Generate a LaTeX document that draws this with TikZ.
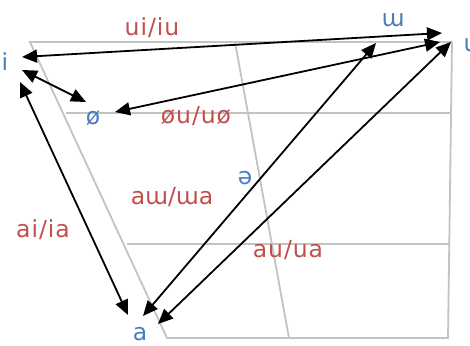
\documentclass[tikz,border=0pt]{standalone}
\usepackage{fontspec}
\setmainfont{DejaVu Sans}
\newfontfamily\spacedfont[LetterSpace=4]{DejaVu Sans}
\usetikzlibrary{arrows.meta}
\definecolor{vblue}{RGB}{74,126,187}
\definecolor{vred}{RGB}{192,80,77}
\definecolor{vgrey}{RGB}{195,195,195}
\tikzset{
  grid/.style={draw=vgrey, line width=1.8pt},
  vowel/.style={text=vblue, font=\fontsize{23.5}{23.5}\selectfont, inner sep=0pt, anchor=base},
  diph/.style={text=vred, font=\spacedfont\fontsize{23.5}{23.5}\selectfont, inner sep=0pt, anchor=base},
  link/.style={draw=black, line width=1.8pt, {Triangle[length=15pt,width=13pt]}-{Triangle[length=15pt,width=13pt]}}
}
\begin{document}
\begin{tikzpicture}[x=1pt,y=-1pt]
\useasboundingbox (0,0) rectangle (470,345);
% chart
\draw[grid] (30,42) -- (452,42) -- (448,338) -- (167,338) -- cycle;
\draw[grid] (235,42) -- (289,338);
\draw[grid] (66,113) -- (451,113);
\draw[grid] (127,244) -- (450,244);
% vowels
\node[vowel] (i) at (5,70) {i};
\node[vowel] (w) at (393,27) {ɯ};
\node[vowel] (u) at (471,52) {u};
\node[vowel] (oe) at (93,124) {ø};
\node[vowel] (schwa) at (245,184) {ə};
\node[vowel] (a) at (140,340) {a};
% diphthong labels
\node[diph] (ui) at (152,36) {ui/iu};
\node[diph] (ou) at (196,123) {øu/uø};
\node[diph, font=\fontsize{23.5}{23.5}\selectfont] (aw) at (172,204) {aɯ/ɯa};
\node[diph] (ai) at (43,237) {ai/ia};
\node[diph] (au) at (288,257) {au/ua};
% arrow ends
\coordinate (i1) at (22,57);  \coordinate (u1) at (442,33);
\coordinate (i2) at (22,70);  \coordinate (o2) at (86,102);
\coordinate (o3) at (115,112); \coordinate (u3) at (440,42);
\coordinate (i4) at (20,82);  \coordinate (a4) at (128,315);
\coordinate (a5) at (143,316); \coordinate (w5) at (376,43);
\coordinate (a6) at (158,324); \coordinate (u6) at (451,42);
\draw[link] (i1) -- (u1);
\draw[link] (i2) -- (o2);
\draw[link] (o3) -- (u3);
\draw[link] (i4) -- (a4);
\draw[link] (a5) -- (w5);
\draw[link] (a6) -- (u6);
\end{tikzpicture}
\end{document}
